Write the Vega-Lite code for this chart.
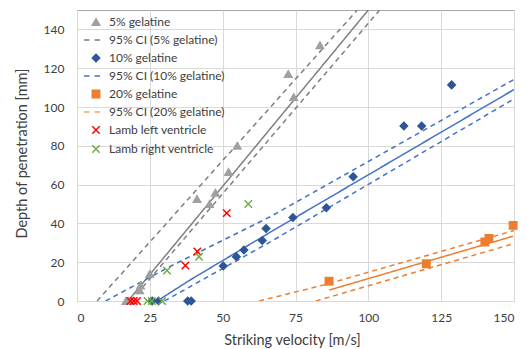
{
  "$schema": "https://vega.github.io/schema/vega-lite/v6.json",
  "width": 437,
  "height": 291,
  "autosize": {"type": "none"},
  "padding": {"left": 77, "top": 10, "right": 13, "bottom": 48},
  "background": "white",
  "config": {
    "font": "Lato",
    "view": {"stroke": "#A6A6A6", "strokeWidth": 1},
    "axis": {"grid": true, "gridColor": "#D9D9D9", "gridWidth": 1, "domain": false, "ticks": false, "labelFont": "Lato", "labelFontSize": 12, "labelColor": "#404040", "titleFont": "Lato", "titleFontSize": 14.5, "titleFontWeight": "normal", "titleColor": "#404040"},
    "legend": {"labelFont": "Lato", "labelFontSize": 12, "labelColor": "#404040"}
  },
  "datasets": {
    "pts": [
      {"series": "5% gelatine", "v": 16.8, "d": 0},
      {"series": "5% gelatine", "v": 17.8, "d": 0},
      {"series": "5% gelatine", "v": 21.5, "d": 5.5},
      {"series": "5% gelatine", "v": 21.8, "d": 8},
      {"series": "5% gelatine", "v": 25, "d": 14},
      {"series": "5% gelatine", "v": 41.2, "d": 52.6},
      {"series": "5% gelatine", "v": 45.5, "d": 50},
      {"series": "5% gelatine", "v": 47.5, "d": 55.8},
      {"series": "5% gelatine", "v": 52, "d": 66.5},
      {"series": "5% gelatine", "v": 55, "d": 80},
      {"series": "5% gelatine", "v": 72.5, "d": 117},
      {"series": "5% gelatine", "v": 74.4, "d": 105.1},
      {"series": "5% gelatine", "v": 83.4, "d": 131.8},
      {"series": "10% gelatine", "v": 25.8, "d": 0},
      {"series": "10% gelatine", "v": 28.0, "d": 0},
      {"series": "10% gelatine", "v": 38.0, "d": 0},
      {"series": "10% gelatine", "v": 39.2, "d": 0},
      {"series": "10% gelatine", "v": 50.2, "d": 18},
      {"series": "10% gelatine", "v": 54.7, "d": 22.8},
      {"series": "10% gelatine", "v": 57.3, "d": 26.3},
      {"series": "10% gelatine", "v": 63.6, "d": 31.2},
      {"series": "10% gelatine", "v": 64.9, "d": 37.4},
      {"series": "10% gelatine", "v": 74.1, "d": 43},
      {"series": "10% gelatine", "v": 85.6, "d": 48.1},
      {"series": "10% gelatine", "v": 94.8, "d": 64.1},
      {"series": "10% gelatine", "v": 112.2, "d": 90.2},
      {"series": "10% gelatine", "v": 118.3, "d": 90.2},
      {"series": "10% gelatine", "v": 128.6, "d": 111.4},
      {"series": "20% gelatine", "v": 86.5, "d": 10.2},
      {"series": "20% gelatine", "v": 119.9, "d": 19.2},
      {"series": "20% gelatine", "v": 140, "d": 30.4},
      {"series": "20% gelatine", "v": 141.4, "d": 32.3},
      {"series": "20% gelatine", "v": 149.7, "d": 39},
      {"series": "Lamb left ventricle", "v": 18.3, "d": 0},
      {"series": "Lamb left ventricle", "v": 19.5, "d": 0},
      {"series": "Lamb left ventricle", "v": 20.6, "d": 0},
      {"series": "Lamb left ventricle", "v": 37.2, "d": 18.3},
      {"series": "Lamb left ventricle", "v": 41.3, "d": 25.5},
      {"series": "Lamb left ventricle", "v": 51.4, "d": 45.3},
      {"series": "Lamb right ventricle", "v": 24.2, "d": 0},
      {"series": "Lamb right ventricle", "v": 25.7, "d": 0},
      {"series": "Lamb right ventricle", "v": 29.2, "d": 0},
      {"series": "Lamb right ventricle", "v": 30.9, "d": 15.7},
      {"series": "Lamb right ventricle", "v": 41.9, "d": 22.8},
      {"series": "Lamb right ventricle", "v": 58.8, "d": 50}
    ],
    "lines": [
      {"grp": "5%", "kind": "fit", "v": 17.5, "d": 0},
      {"grp": "5%", "kind": "fit", "v": 100, "d": 150},
      {"grp": "5%", "kind": "upper", "v": 6.9, "d": 0},
      {"grp": "5%", "kind": "upper", "v": 96.2, "d": 150},
      {"grp": "5%", "kind": "lower", "v": 18.5, "d": 0},
      {"grp": "5%", "kind": "lower", "v": 103.9, "d": 150},
      {"grp": "10%", "kind": "fit", "v": 27.5, "d": 0},
      {"grp": "10%", "kind": "fit", "v": 39, "d": 11},
      {"grp": "10%", "kind": "fit", "v": 66.4, "d": 35.5},
      {"grp": "10%", "kind": "fit", "v": 150, "d": 109},
      {"grp": "10%", "kind": "upper", "v": 9.8, "d": 0},
      {"grp": "10%", "kind": "upper", "v": 32.1, "d": 17.9},
      {"grp": "10%", "kind": "upper", "v": 66.4, "d": 43.5},
      {"grp": "10%", "kind": "upper", "v": 150, "d": 114.2},
      {"grp": "10%", "kind": "lower", "v": 30, "d": 0},
      {"grp": "10%", "kind": "lower", "v": 66.4, "d": 30.5},
      {"grp": "10%", "kind": "lower", "v": 150, "d": 104.2},
      {"grp": "20%", "kind": "fit", "v": 86.5, "d": 5.6},
      {"grp": "20%", "kind": "fit", "v": 149.7, "d": 33.4},
      {"grp": "20%", "kind": "upper", "v": 62.5, "d": 0},
      {"grp": "20%", "kind": "upper", "v": 85.3, "d": 8.5},
      {"grp": "20%", "kind": "upper", "v": 150, "d": 36.3},
      {"grp": "20%", "kind": "lower", "v": 82, "d": 0},
      {"grp": "20%", "kind": "lower", "v": 150, "d": 29.6}
    ]
  },
  "layer": [
    {
      "data": {"name": "lines"},
      "mark": {"type": "line", "strokeWidth": 1.5, "clip": true},
      "encoding": {
        "x": {"field": "v", "type": "quantitative", "scale": {"domain": [0, 150]}},
        "y": {"field": "d", "type": "quantitative", "scale": {"domain": [0, 150]}},
        "color": {"field": "grp", "type": "nominal", "scale": {"domain": ["5%", "10%", "20%"], "range": ["#7F7F7F", "#4472C4", "#ED7D31"]}, "legend": null},
        "strokeDash": {"field": "kind", "type": "nominal", "scale": {"domain": ["fit", "upper", "lower"], "range": [[1, 0], [5, 4], [5, 4]]}, "legend": null},
        "detail": [{"field": "grp"}, {"field": "kind"}]
      }
    },
    {
      "data": {"name": "pts"},
      "mark": {"type": "point", "filled": true, "strokeWidth": 1.5, "size": 55, "opacity": 1},
      "encoding": {
        "x": {"field": "v", "type": "quantitative", "scale": {"domain": [0, 150]},
          "axis": {"values": [0, 25, 50, 75, 100, 125, 150], "title": "Striking velocity [m/s]", "labelPadding": 11, "titleX": 215, "titleY": 39, "titleBaseline": "middle"}},
        "y": {"field": "d", "type": "quantitative", "scale": {"domain": [0, 150]},
          "axis": {"values": [0, 20, 40, 60, 80, 100, 120, 140], "title": "Depth of penetration  [mm]", "labelPadding": 13, "titleX": -55, "titleY": 143, "titleBaseline": "middle", "titleAngle": -90}},
        "fill": {"field": "series", "type": "nominal", "title": null,
          "scale": {"domain": ["5% gelatine", "95% CI (5% gelatine)", "10% gelatine", "95% CI (10% gelatine)", "20% gelatine", "95% CI (20% gelatine)", "Lamb left ventricle", "Lamb right ventricle"],
            "range": ["#A0A0A0", "#7F7F7F", "#2F5597", "#4472C4", "#ED7D31", "#F4A46E", "#FF0000", "#70AD47"]},
          "legend": {"orient": "none", "legendX": 13, "legendY": 6, "padding": 0, "symbolSize": 55, "symbolStrokeWidth": 1.5, "labelOffset": 7, "rowPadding": 5, "labelLimit": 300}},
        "stroke": {"field": "series", "type": "nominal", "title": null,
          "scale": {"domain": ["5% gelatine", "95% CI (5% gelatine)", "10% gelatine", "95% CI (10% gelatine)", "20% gelatine", "95% CI (20% gelatine)", "Lamb left ventricle", "Lamb right ventricle"],
            "range": ["#A0A0A0", "#7F7F7F", "#2F5597", "#4472C4", "#ED7D31", "#F4A46E", "#FF0000", "#70AD47"]},
          "legend": {"orient": "none", "legendX": 13, "legendY": 6, "padding": 0, "symbolSize": 55, "symbolStrokeWidth": 1.5, "labelOffset": 7, "rowPadding": 5, "labelLimit": 300}},
        "shape": {"field": "series", "type": "nominal", "title": null,
          "scale": {"domain": ["5% gelatine", "95% CI (5% gelatine)", "10% gelatine", "95% CI (10% gelatine)", "20% gelatine", "95% CI (20% gelatine)", "Lamb left ventricle", "Lamb right ventricle"],
            "range": ["triangle-up", "M-3.25,0L-1.75,0M-0.4,0L1.1,0", "diamond", "M-3.25,0L-1.75,0M-0.4,0L1.1,0", "square", "M-3.25,0L-1.75,0M-0.4,0L1.1,0", "M-1,-1L1,1M-1,1L1,-1", "M-1,-1L1,1M-1,1L1,-1"]},
          "legend": {"orient": "none", "legendX": 13, "legendY": 6, "padding": 0, "symbolSize": 55, "symbolStrokeWidth": 1.5, "labelOffset": 7, "rowPadding": 5, "labelLimit": 300}}
      }
    }
  ]
}
